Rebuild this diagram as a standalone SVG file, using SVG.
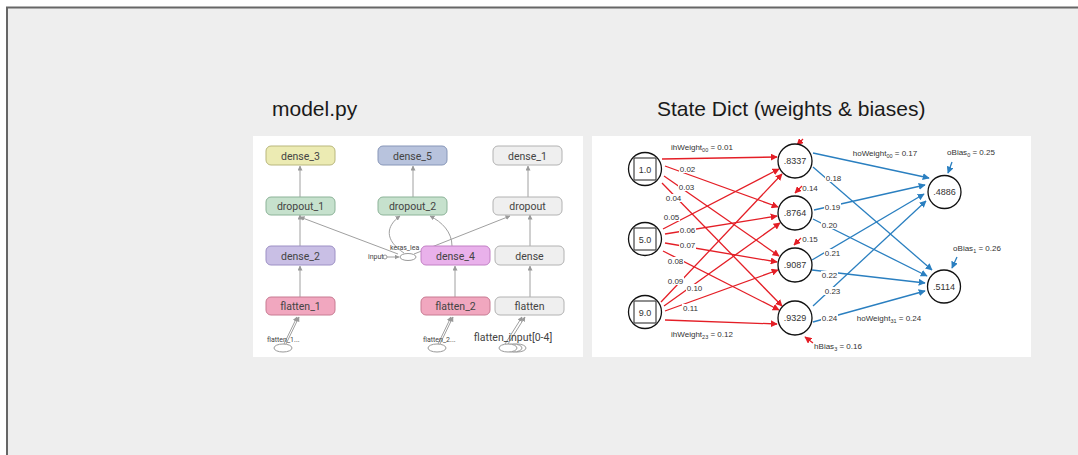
<svg xmlns="http://www.w3.org/2000/svg" width="1078" height="455" viewBox="0 0 1078 455">
<defs>
<marker id="ar" viewBox="0 0 10 10" refX="9" refY="5" markerWidth="7" markerHeight="7" markerUnits="userSpaceOnUse" orient="auto"><path d="M0,0 L10,5 L0,10 z" fill="#e41e26"/></marker>
<marker id="ab" viewBox="0 0 10 10" refX="9" refY="5" markerWidth="7" markerHeight="7" markerUnits="userSpaceOnUse" orient="auto"><path d="M0,0 L10,5 L0,10 z" fill="#2a7fc0"/></marker>
<marker id="ag" viewBox="0 0 10 10" refX="9" refY="5" markerWidth="5" markerHeight="5" markerUnits="userSpaceOnUse" orient="auto"><path d="M0,0 L10,5 L0,10 z" fill="#999"/></marker>
<style>
.title{font-family:"Liberation Sans",Arial,sans-serif;font-size:21px;fill:#1a1a1a}
.nd rect{stroke-width:1}
.nt{font-family:Roboto,"Liberation Sans",sans-serif;font-size:10.5px;fill:#444;text-anchor:middle}
.ge{stroke:#a0a0a0;stroke-width:1;fill:none;marker-end:url(#ag)}
.sm{font-family:Roboto,"Liberation Sans",sans-serif;font-size:7px;fill:#444}
.re{stroke:#e41e26;stroke-width:1.3;fill:none;marker-end:url(#ar)}
.be{stroke:#2a7fc0;stroke-width:1.3;fill:none;marker-end:url(#ab)}
.wl{font-family:"Liberation Sans",Arial,sans-serif;font-size:8px;fill:#333;text-anchor:middle}
.wb{fill:#fff}
.cir{fill:#fff;stroke:#111;stroke-width:1.3}
.ct{font-family:"Liberation Sans",Arial,sans-serif;font-size:9px;fill:#333;text-anchor:middle}
</style>
</defs>
<rect x="0" y="0" width="1078" height="455" fill="#fff"/>
<rect x="7" y="7.5" width="1090" height="460" fill="#eeeeee" stroke="#666" stroke-width="2"/>
<text class="title" x="272" y="116">model.py</text>
<text class="title" x="657" y="116">State Dict (weights &amp; biases)</text>

<!-- left panel -->
<rect x="253" y="136" width="330" height="221" fill="#fff"/>
<g id="left-connectors">
<line class="ge" x1="300" y1="297" x2="300" y2="266"/>
<line class="ge" x1="300" y1="246" x2="300" y2="215"/>
<line class="ge" x1="300" y1="197" x2="300" y2="166"/>
<line class="ge" x1="413" y1="197" x2="413" y2="166"/>
<line class="ge" x1="528" y1="197" x2="528" y2="166"/>
<line class="ge" x1="530" y1="246" x2="530" y2="215"/>
<line class="ge" x1="530" y1="297" x2="530" y2="266"/>
<line class="ge" x1="455" y1="297" x2="455" y2="266"/>
<line class="ge" x1="284" y1="344" x2="297" y2="317"/>
<line class="ge" x1="286" y1="344" x2="299" y2="317"/>
<line class="ge" x1="438" y1="344" x2="451" y2="317"/>
<line class="ge" x1="440" y1="344" x2="453" y2="317"/>
<line class="ge" x1="505" y1="344" x2="522" y2="317"/>
<line class="ge" x1="508" y1="344" x2="525" y2="317"/>
<line class="ge" x1="398" y1="254" x2="300" y2="217"/>
<line class="ge" x1="414" y1="254" x2="510" y2="216"/>
<path class="ge" d="M404 253 C384 240 386 226 400 216"/>
<path class="ge" d="M452 246 C452 232 442 222 430 216"/>
<line class="ge" x1="387" y1="257" x2="399" y2="257"/>
</g>
<g id="dense_3" class="nd"><rect x="266" y="146" width="69" height="19" rx="5" fill="#ecebb3" stroke="#b9b77c"/><text class="nt" x="300.5" y="159.5">dense_3</text></g>
<g id="dense_5" class="nd"><rect x="378" y="146" width="69" height="19" rx="5" fill="#b8c3dd" stroke="#8796b8"/><text class="nt" x="412.5" y="159.5">dense_5</text></g>
<g id="dense_1" class="nd"><rect x="493" y="146" width="69" height="19" rx="5" fill="#efefef" stroke="#b2b2b2"/><text class="nt" x="527.5" y="159.5">dense_1</text></g>
<g id="dropout_1" class="nd"><rect x="266" y="197" width="69" height="18" rx="5" fill="#c6e1cd" stroke="#8cb398"/><text class="nt" x="300.5" y="209.5">dropout_1</text></g>
<g id="dropout_2" class="nd"><rect x="378" y="197" width="69" height="18" rx="5" fill="#c6e1cd" stroke="#8cb398"/><text class="nt" x="412.5" y="209.5">dropout_2</text></g>
<g id="dropout" class="nd"><rect x="493" y="197" width="69" height="18" rx="5" fill="#efefef" stroke="#b2b2b2"/><text class="nt" x="527.5" y="209.5">dropout</text></g>
<g id="dense_2" class="nd"><rect x="266" y="246" width="69" height="19" rx="5" fill="#c9bfe5" stroke="#9d90c5"/><text class="nt" x="300.5" y="259.5">dense_2</text></g>
<g id="keras_lea" class="nd"><ellipse cx="408" cy="257" rx="8" ry="3.5" fill="#fff" stroke="#999"/><text class="sm" x="390" y="250">keras_lea</text><circle cx="385" cy="257" r="2" fill="#fff" stroke="#999"/><text class="sm" x="368" y="259" font-size="5.5">input</text></g>
<g id="dense_4" class="nd"><rect x="421" y="246" width="69" height="19" rx="5" fill="#e9b1eb" stroke="#c280c5"/><text class="nt" x="455.5" y="259.5">dense_4</text></g>
<g id="dense" class="nd"><rect x="495" y="246" width="69" height="19" rx="5" fill="#efefef" stroke="#b2b2b2"/><text class="nt" x="529.5" y="259.5">dense</text></g>
<g id="flatten_1" class="nd"><rect x="266" y="297" width="69" height="18" rx="5" fill="#f1a7bf" stroke="#c87b92"/><text class="nt" x="300.5" y="309.5">flatten_1</text></g>
<g id="flatten_2" class="nd"><rect x="421" y="297" width="69" height="18" rx="5" fill="#f1a7bf" stroke="#c87b92"/><text class="nt" x="455.5" y="309.5">flatten_2</text></g>
<g id="flatten" class="nd"><rect x="495" y="297" width="69" height="18" rx="5" fill="#efefef" stroke="#b2b2b2"/><text class="nt" x="529.5" y="309.5">flatten</text></g>
<g id="flatten_1_in" class="nd"><ellipse cx="283" cy="348" rx="9" ry="4" fill="#fff" stroke="#999"/><text class="sm" x="267" y="342">flatten_1...</text></g>
<g id="flatten_2_in" class="nd"><ellipse cx="437" cy="348" rx="9" ry="4" fill="#fff" stroke="#999"/><text class="sm" x="423" y="342">flatten_2...</text></g>
<g id="flatten_input" class="nd"><ellipse cx="517" cy="348" rx="9" ry="4" fill="#fff" stroke="#999"/><ellipse cx="513" cy="348" rx="9" ry="4" fill="#fff" stroke="#999"/><ellipse cx="508" cy="348" rx="9" ry="4" fill="#fff" stroke="#999"/><text class="nt" x="513" y="341" font-size="9.5">flatten_input[0-4]</text></g>

<!-- right panel -->
<rect x="592" y="136" width="439" height="221" fill="#fff"/>
<g id="right-connectors">
<line class="re" x1="662" y1="159" x2="777" y2="157"/>
<line class="re" x1="665" y1="166" x2="778" y2="207"/>
<line class="re" x1="664" y1="176" x2="779" y2="256"/>
<line class="re" x1="662" y1="183" x2="782" y2="306"/>
<line class="re" x1="663" y1="229" x2="779" y2="169"/>
<line class="re" x1="665" y1="234" x2="777" y2="216"/>
<line class="re" x1="665" y1="243" x2="777" y2="262"/>
<line class="re" x1="663" y1="251" x2="779" y2="310"/>
<line class="re" x1="661" y1="302" x2="782" y2="174"/>
<line class="re" x1="664" y1="306" x2="780" y2="223"/>
<line class="re" x1="665" y1="311" x2="778" y2="270"/>
<line class="re" x1="665" y1="320" x2="777" y2="324"/>
<line class="re" x1="803" y1="139" x2="797" y2="145"/>
<line class="re" x1="802" y1="186" x2="795" y2="193"/>
<line class="re" x1="801" y1="238" x2="794" y2="245"/>
<line class="re" x1="813" y1="343" x2="805" y2="337"/>
<line class="be" x1="813" y1="153" x2="929" y2="178"/>
<line class="be" x1="813" y1="167" x2="932" y2="270"/>
<line class="be" x1="814" y1="210" x2="925" y2="185"/>
<line class="be" x1="813" y1="219" x2="927" y2="276"/>
<line class="be" x1="812" y1="260" x2="924" y2="194"/>
<line class="be" x1="812" y1="270" x2="925" y2="283"/>
<line class="be" x1="813" y1="306" x2="926" y2="201"/>
<line class="be" x1="813" y1="322" x2="925" y2="291"/>
<line class="be" x1="952" y1="162" x2="948" y2="173"/>
<line class="be" x1="957" y1="257" x2="952" y2="268"/>
</g>
<g id="weight-labels">
<text class="wl" x="702" y="150">ihWeight<tspan font-size="5.5" dy="2">00</tspan><tspan dy="-2"> = 0.01</tspan></text>
<rect class="wb" x="679" y="165" width="17" height="8"/><text class="wl" x="687.5" y="172">0.02</text>
<rect class="wb" x="678" y="183" width="17" height="8"/><text class="wl" x="686.5" y="190">0.03</text>
<rect class="wb" x="665" y="194" width="17" height="8"/><text class="wl" x="673.5" y="201">0.04</text>
<rect class="wb" x="663" y="213" width="17" height="8"/><text class="wl" x="671.5" y="220">0.05</text>
<rect class="wb" x="679" y="226" width="17" height="8"/><text class="wl" x="687.5" y="233">0.06</text>
<rect class="wb" x="679" y="241" width="17" height="8"/><text class="wl" x="687.5" y="248">0.07</text>
<rect class="wb" x="667" y="257" width="17" height="8"/><text class="wl" x="675.5" y="264">0.08</text>
<rect class="wb" x="667" y="277" width="17" height="8"/><text class="wl" x="675.5" y="284">0.09</text>
<rect class="wb" x="686" y="284" width="17" height="8"/><text class="wl" x="694.5" y="291">0.10</text>
<rect class="wb" x="682" y="304" width="17" height="8"/><text class="wl" x="690.5" y="311">0.11</text>
<text class="wl" x="702" y="337">ihWeight<tspan font-size="5.5" dy="2">23</tspan><tspan dy="-2"> = 0.12</tspan></text>
<text class="wl" x="810" y="191">0.14</text>
<text class="wl" x="810" y="242">0.15</text>
<text class="wl" x="838" y="349">hBias<tspan font-size="5.5" dy="2">3</tspan><tspan dy="-2"> = 0.16</tspan></text>
<text class="wl" x="885" y="156">hoWeight<tspan font-size="5.5" dy="2">00</tspan><tspan dy="-2"> = 0.17</tspan></text>
<rect class="wb" x="825" y="174" width="17" height="8"/><text class="wl" x="833.5" y="181">0.18</text>
<rect class="wb" x="824" y="203" width="17" height="8"/><text class="wl" x="832.5" y="210">0.19</text>
<rect class="wb" x="821" y="221" width="17" height="8"/><text class="wl" x="829.5" y="228">0.20</text>
<rect class="wb" x="824" y="249" width="17" height="8"/><text class="wl" x="832.5" y="256">0.21</text>
<rect class="wb" x="821" y="271" width="17" height="8"/><text class="wl" x="829.5" y="278">0.22</text>
<rect class="wb" x="824" y="287" width="17" height="8"/><text class="wl" x="832.5" y="294">0.23</text>
<rect class="wb" x="821" y="314" width="17" height="8"/><text class="wl" x="829.5" y="321">0.24</text>
<text class="wl" x="889" y="321">hoWeight<tspan font-size="5.5" dy="2">31</tspan><tspan dy="-2"> = 0.24</tspan></text>
<text class="wl" x="971" y="155">oBias<tspan font-size="5.5" dy="2">0</tspan><tspan dy="-2"> = 0.25</tspan></text>
<text class="wl" x="977" y="251">oBias<tspan font-size="5.5" dy="2">1</tspan><tspan dy="-2"> = 0.26</tspan></text>
</g>
<g id="in0"><circle class="cir" cx="645" cy="169" r="16.5"/><rect x="634" y="158" width="22" height="22" fill="none" stroke="#444" stroke-width="1.2"/><text class="ct" x="645" y="172.5">1.0</text></g>
<g id="in1"><circle class="cir" cx="645" cy="239" r="16.5"/><rect x="634" y="228" width="22" height="22" fill="none" stroke="#444" stroke-width="1.2"/><text class="ct" x="645" y="242.5">5.0</text></g>
<g id="in2"><circle class="cir" cx="645" cy="312" r="16.5"/><rect x="634" y="301" width="22" height="22" fill="none" stroke="#444" stroke-width="1.2"/><text class="ct" x="645" y="315.5">9.0</text></g>
<g id="h0"><circle class="cir" cx="795" cy="161" r="17"/><text class="ct" x="795" y="164" font-size="8">.8337</text></g>
<g id="h1"><circle class="cir" cx="795" cy="213" r="17"/><text class="ct" x="795" y="216" font-size="8">.8764</text></g>
<g id="h2"><circle class="cir" cx="795" cy="265" r="17"/><text class="ct" x="795" y="268" font-size="8">.9087</text></g>
<g id="h3"><circle class="cir" cx="795" cy="318" r="17"/><text class="ct" x="795" y="321" font-size="8">.9329</text></g>
<g id="o0"><circle class="cir" cx="944.5" cy="192" r="16.5"/><text class="ct" x="944.5" y="195" font-size="8">.4886</text></g>
<g id="o1"><circle class="cir" cx="944" cy="286.5" r="16.5"/><text class="ct" x="944" y="289.5" font-size="8">.5114</text></g>
</svg>
